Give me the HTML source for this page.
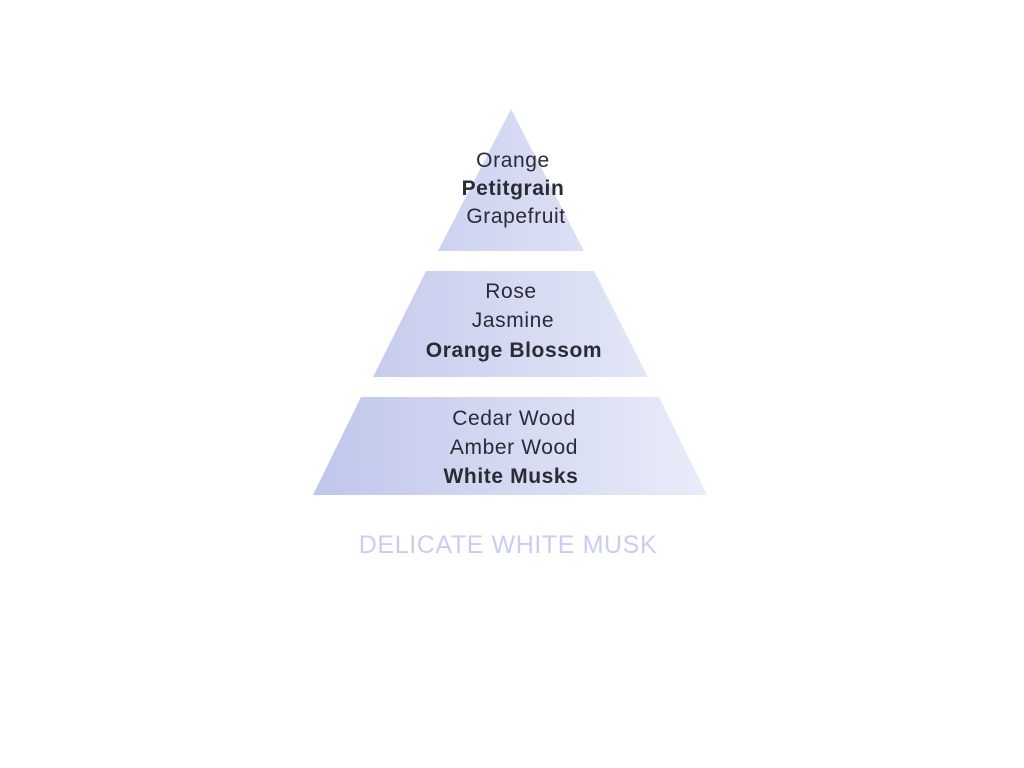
<!DOCTYPE html>
<html><head><style>
body{margin:0;width:1024px;height:768px;background:#fff;position:relative;font-family:"Liberation Sans",sans-serif;overflow:hidden}
.t{position:absolute;width:400px;text-align:center;font-size:21px;color:#2b2b36;line-height:20px;letter-spacing:0.6px}
.b{font-weight:bold}
</style></head><body>
<svg width="1024" height="768" style="position:absolute;left:0;top:0">
<defs>
<linearGradient id="g2" gradientUnits="userSpaceOnUse" x1="313" y1="0" x2="707" y2="0">
<stop offset="0" stop-color="#c0c6eb"/><stop offset="1" stop-color="#e9ecf9"/></linearGradient></defs>
<polygon points="511,109 584,251 438,251" fill="url(#g2)"/>
<polygon points="426,271 594,271 648,377 373,377" fill="url(#g2)"/>
<polygon points="361,397 659,397 707,495 313,495" fill="url(#g2)"/>
</svg>
<div class="t" style="left:313px;top:151px">Orange</div>
<div class="t b" style="left:313px;top:179px">Petitgrain</div>
<div class="t" style="left:316px;top:207px">Grapefruit</div>
<div class="t" style="left:311px;top:282px">Rose</div>
<div class="t" style="left:313px;top:311px">Jasmine</div>
<div class="t b" style="left:314px;top:341px">Orange Blossom</div>
<div class="t" style="left:314px;top:409px">Cedar Wood</div>
<div class="t" style="left:314px;top:438px">Amber Wood</div>
<div class="t b" style="left:311px;top:467px">White Musks</div>
<div class="t" style="left:308px;top:533px;font-size:25px;line-height:24px;color:#c9cef1;letter-spacing:0.6px">DELICATE WHITE MUSK</div>
</body></html>
